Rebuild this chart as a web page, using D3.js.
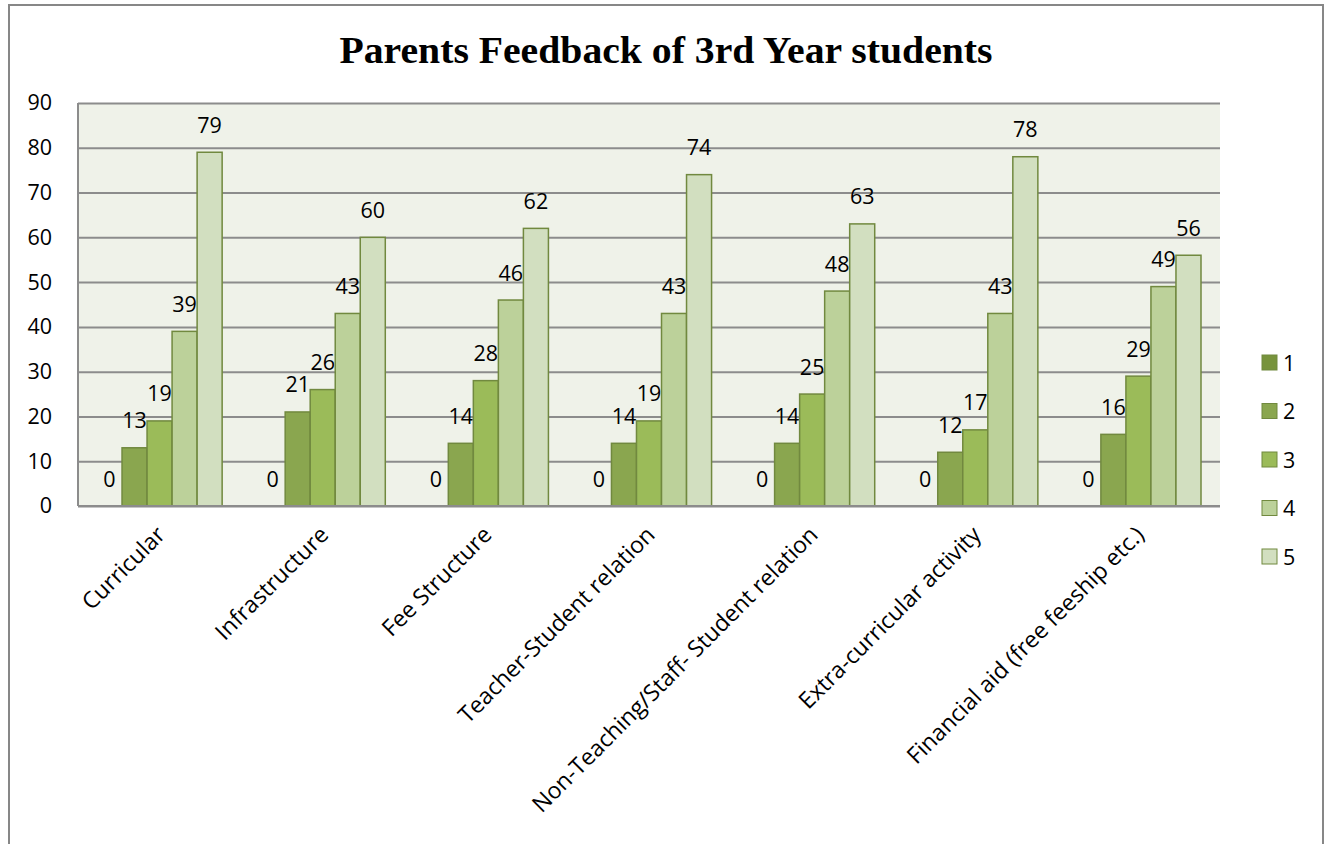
<!DOCTYPE html>
<html><head><meta charset="utf-8">
<script src="https://cdn.jsdelivr.net/npm/d3@7"></script>
<style>body{margin:0;background:#fff}svg{display:block}</style>
</head><body>
<script>
const categories = ["Curricular","Infrastructure","Fee Structure","Teacher-Student relation","Non-Teaching/Staff- Student relation","Extra-curricular activity","Financial aid (free feeship etc.)"];
const seriesNames = ["1","2","3","4","5"];
const s1 = [0,0,0,0,0,0,0];
const s2 = [13,21,14,14,14,12,16];
const s3 = [19,26,28,19,25,17,29];
const s4 = [39,43,46,43,48,43,49];
const s5 = [79,60,62,74,63,78,56];
const yTicks = [0,10,20,30,40,50,60,70,80,90];
const title = "Parents Feedback of 3rd Year students";
const seriesValues = [s1,s2,s3,s4,s5];
const colors = ["#77933C","#8AA64F","#9BBB59","#BCD19A","#D2DFC0"];

const W=1327,H=844;
const svg=d3.select("body").append("svg").attr("width",W).attr("height",H);
const font="'Open Sans','Noto Sans',sans-serif";
const fs=21.5;
svg.append("rect").attr("x",9).attr("y",5).attr("width",1314).attr("height",H).attr("fill","#fff").attr("stroke","#878787").attr("stroke-width",2);
const m={l:78,t:103,r:1220,b:506};
const x0=d3.scaleBand().domain(categories).range([m.l,m.r]).padding(0);
const gap=38*(x0.bandwidth()/163.14);
const x1=d3.scaleBand().domain(seriesNames).range([gap/2,x0.bandwidth()-gap/2]).padding(0);
const y=d3.scaleLinear().domain([0,90]).range([m.b,m.t]);
svg.append("rect").attr("x",m.l).attr("y",m.t).attr("width",m.r-m.l).attr("height",m.b-m.t).attr("fill","#EFF2E9");
const ya=svg.append("g").attr("transform",`translate(${m.l},0)`).call(d3.axisLeft(y).tickValues(yTicks).tickSize(-(m.r-m.l)).tickPadding(26));
ya.select(".domain").remove();
ya.selectAll("line").attr("stroke","#8C8C8C").attr("stroke-width",2);
ya.selectAll("text").attr("font-family",font).attr("font-size",fs).attr("fill","#000");
svg.append("line").attr("x1",m.l).attr("x2",m.l).attr("y1",m.t).attr("y2",m.b).attr("stroke","#8C8C8C").attr("stroke-width",2);
const g=svg.append("g");
categories.forEach((c,i)=>{
  seriesNames.forEach((s,j)=>{
    const v=seriesValues[j][i];
    const bx=x0(c)+x1(s);
    g.append("rect").attr("x",bx).attr("y",y(v)).attr("width",x1.bandwidth()).attr("height",m.b-y(v))
      .attr("fill",colors[j]).attr("stroke","#71893F").attr("stroke-width",1.5);
    g.append("text").attr("x",bx+x1.bandwidth()/2).attr("y",y(v)-27).attr("dy","0.35em").attr("text-anchor","middle")
      .attr("font-family",font).attr("font-size",fs).text(v);
  });
});
svg.append("line").attr("x1",m.l).attr("x2",m.r).attr("y1",m.b).attr("y2",m.b).attr("stroke","#8C8C8C").attr("stroke-width",2);
categories.forEach(c=>{
  const cx=x0(c)+x0.bandwidth()/2-5, cy=m.b+18;
  svg.append("text").attr("transform",`translate(${cx},${cy}) rotate(-45)`).attr("text-anchor","end").attr("dy","0.75em")
    .attr("font-family",font).attr("font-size",23).text(c);
});
svg.append("text").attr("x",666).attr("y",63).attr("text-anchor","middle").attr("font-family","'Liberation Serif',serif")
  .attr("font-weight","bold").attr("font-size",38).attr("textLength",653).attr("lengthAdjust","spacingAndGlyphs").text(title);
const ly=d3.scalePoint().domain(seriesNames).range([363,557]);
seriesNames.forEach((s,j)=>{
  svg.append("rect").attr("x",1262).attr("y",ly(s)-8).attr("width",15).attr("height",15).attr("fill",colors[j]).attr("stroke","#71893F").attr("stroke-width",1);
  svg.append("text").attr("x",1283).attr("y",ly(s)).attr("dy","0.35em").attr("font-family",font).attr("font-size",fs).text(s);
});
</script>
</body></html>
